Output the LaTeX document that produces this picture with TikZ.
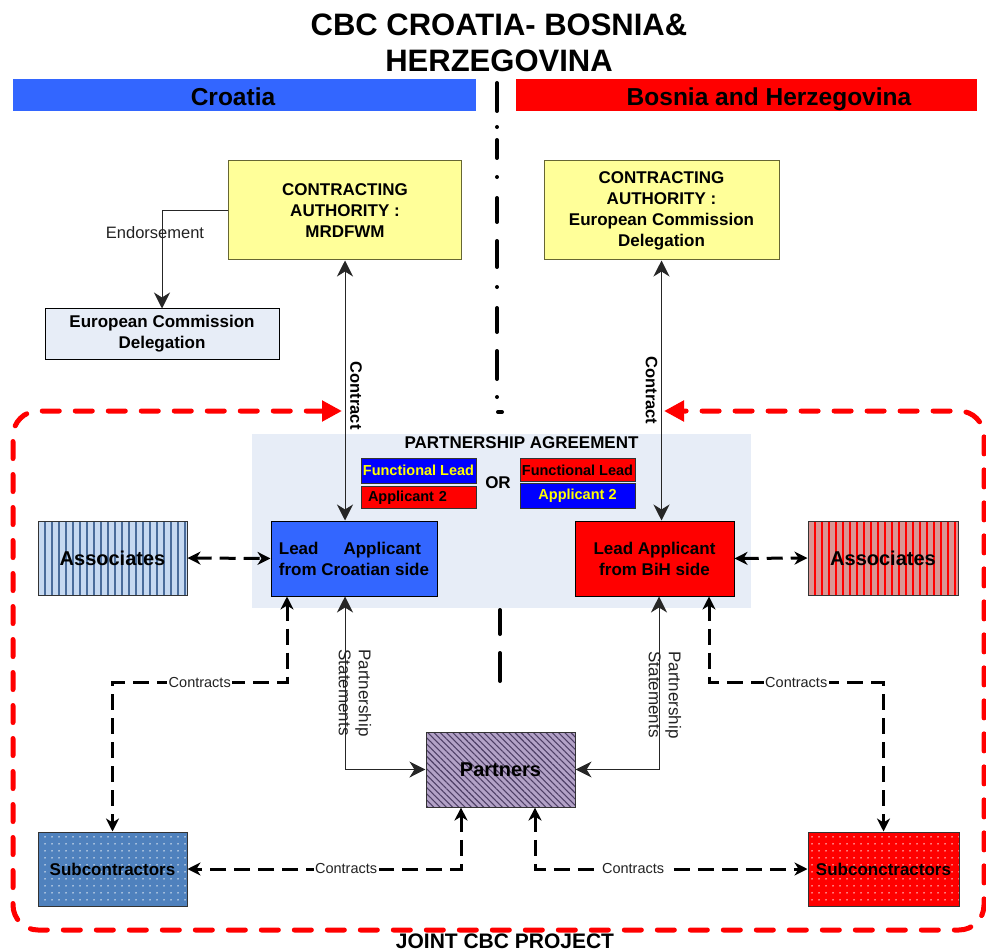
\documentclass[tikz,border=0pt]{standalone}
\usepackage{fontspec}
\setmainfont{Liberation Sans}
\usetikzlibrary{arrows.meta,patterns.meta}

\definecolor{hdrblue}{HTML}{3366FF}
\definecolor{pured}{HTML}{FF0000}
\definecolor{pureblue}{HTML}{0000FF}
\definecolor{cayellow}{HTML}{FFFF99}
\definecolor{caborder}{HTML}{666633}
\definecolor{paleblue}{HTML}{E7EDF7}
\definecolor{asblue}{HTML}{C6D9F1}
\definecolor{asstripe}{HTML}{4A6C9B}
\definecolor{asred}{HTML}{D99694}
\definecolor{ptfill}{HTML}{B3A2C7}
\definecolor{pthatch}{HTML}{4E3F66}
\definecolor{scblue}{HTML}{4F81BD}
\definecolor{txtyellow}{HTML}{FFFF00}
\definecolor{labelgray}{HTML}{222222}

\newcommand{\fsz}[2]{\fontsize{#1}{#2}\selectfont}

\tikzset{
  bigtip/.tip={Stealth[length=16pt,width=16pt,inset=5pt]},
  dtip/.tip={Stealth[length=13pt,width=13pt,inset=4pt]},
  rtip/.tip={Triangle[length=20pt,width=20pt]},
  box/.style={draw=black, line width=1pt, inner sep=0pt, align=center, font=\fsz{17}{21}\bfseries},
  cabox/.style={box, draw=caborder, fill=cayellow, minimum width=233pt, minimum height=99pt},
  smallbox/.style={draw=black!80, line width=1pt, inner sep=0pt, minimum width=115pt, font=\fsz{14.5}{17}\bfseries},
  patbox/.style={box, draw=black!80, minimum width=149pt, minimum height=74pt},
  stripes/.style={path picture={\foreach \k in {0,...,20} \draw[#1, line width=2pt] ([xshift=7pt+\k*7pt]path picture bounding box.north west) -- ([xshift=7pt+\k*7pt]path picture bounding box.south west);}},
  thinconn/.style={draw=black!85, line width=1pt},
  dashconn/.style={draw=black, line width=3pt, dash pattern=on 16pt off 8pt, dtip-dtip},
  reddash/.style={draw=pured, line width=5pt, dash pattern=on 17pt off 16pt, line cap=round, rtip-rtip},
  divline/.style={draw=black, line width=4pt, line cap=round},
  lbl/.style={font=\fsz{14.5}{17}, text=labelgray, fill=white, inner sep=1.5pt},
  pslbl/.style={font=\fsz{17}{20}, text=labelgray, rotate=-90, align=left, inner sep=0pt},
  ctlbl/.style={font=\fsz{16.5}{20}\bfseries, rotate=-90, inner sep=0pt}
}

\begin{document}
\begin{tikzpicture}[x=1pt,y=-1pt]
\useasboundingbox (0,0) rectangle (986,952);

% title and headers
\node[font=\fsz{31}{35.7}\bfseries, align=center, inner sep=0pt] (title) at (499,42.8) {CBC CROATIA- BOSNIA\&\\HERZEGOVINA};
\node[fill=hdrblue, minimum width=463pt, minimum height=32pt, inner sep=0pt] (hdrHR) at (244.5,95) {};
\node[fill=pured, minimum width=461pt, minimum height=32pt, inner sep=0pt] (hdrBA) at (746.5,95) {};
\node[anchor=base, font=\fsz{24.5}{28}\bfseries, inner sep=0pt] (hdrHRt) at (233,106) {Croatia};
\node[anchor=base, font=\fsz{24.5}{28}\bfseries, inner sep=0pt] (hdrBAt) at (769,106) {Bosnia and Herzegovina};

% partnership agreement background
\node[fill=paleblue, minimum width=499pt, minimum height=174pt, inner sep=0pt] (PA) at (501.5,521) {};
\node[font=\fsz{17}{21}\bfseries, inner sep=0pt] (PAt) at (521.5,443) {PARTNERSHIP AGREEMENT};

% central divider
\draw[divline] (497,83) -- (497,111);
\draw[divline] (497,127) -- (497,127.01);
\draw[divline] (497,140) -- (497,158);
\draw[divline] (497,177) -- (497,177.01);
\draw[divline] (497,198) -- (497,222);
\draw[divline] (497,241) -- (497,267);
\draw[divline] (497,287) -- (497,287.01);
\draw[divline] (497,308) -- (497,332);
\draw[divline] (497,351) -- (497,379);
\draw[divline] (497,397) -- (497,397.01);
\draw[divline] (498,412) -- (502,412);
\draw[divline] (500,610) -- (500,634);
\draw[divline] (500,653) -- (500,681);

% top boxes
\node[cabox] (CA1) at (345,210.5) {CONTRACTING\\AUTHORITY :\\MRDFWM};
\node[cabox, minimum width=235pt] (CA2) at (661.5,210.5) {CONTRACTING\\AUTHORITY :\\European Commission\\Delegation};
\node[box, fill=paleblue, minimum width=234pt, minimum height=50pt] (ECD) at (162,334) {European Commission\\Delegation};

% small boxes in PA
\node[smallbox, fill=pureblue, text=txtyellow, minimum height=25pt] (FL1) at (418.5,470.5) {Functional Lead};
\node[smallbox, fill=pured, minimum height=22pt, text width=101pt, inner xsep=7pt, align=left] (A21) at (418.5,497.5) {Applicant 2};
\node[font=\fsz{17}{21}\bfseries, inner sep=0pt] (OR) at (498,483) {OR};
\node[smallbox, fill=pured, minimum height=23.5pt] (FL2) at (577.5,470) {Functional Lead};
\node[smallbox, fill=pureblue, text=txtyellow, minimum height=25.5pt] (A22) at (577.5,496) {Applicant 2};

% lead applicants
\node[box, fill=hdrblue, minimum width=166pt, minimum height=75pt, align=left] (LA1) at (354,558.5) {Lead\hspace{25pt}Applicant\\from Croatian side};
\node[box, fill=pured, minimum width=159pt, minimum height=75pt] (LA2) at (654.5,558.5) {Lead Applicant\\from BiH side};

% associates, partners, subcontractors
\node[patbox, font=\fsz{20}{24}\bfseries, minimum width=149pt, fill=asblue, stripes=asstripe] (AS1) at (112.5,558) {Associates};
\node[patbox, font=\fsz{20}{24}\bfseries, minimum width=150pt, fill=asred, stripes=pured] (AS2) at (883,558) {Associates};
\node[patbox, font=\fsz{20}{24}\bfseries, minimum height=75pt, preaction={fill=ptfill}, pattern={Lines[angle=-45,distance=4.4pt,line width=1.1pt]}, pattern color=pthatch] (PT) at (500.5,769.5) {Partners};
\node[patbox, preaction={fill=scblue}, pattern={Dots[radius=0.8pt,distance=6.5pt]}, pattern color=white] (SC1) at (112.5,869) {Subcontractors};
\node[patbox, minimum width=151pt, preaction={fill=pured}, pattern={Dots[radius=0.8pt,distance=6.5pt]}, pattern color=white] (SC2) at (883.5,869) {Subconctractors};

% endorsement
\draw[thinconn, -bigtip] (CA1.west) -| (ECD.north);
\node[font=\fsz{16.5}{20}, text=labelgray, inner sep=0pt] (endlbl) at (155,233) {Endorsement};

% contracts with contracting authorities
\draw[thinconn, bigtip-bigtip] (CA1.south) -- (CA1.south |- LA1.north) node[pos=0.52, xshift=11pt, ctlbl] {Contract};
\draw[thinconn, bigtip-bigtip] (CA2.south) -- (CA2.south |- LA2.north) node[pos=0.5, xshift=-10pt, ctlbl] {Contract};

% red frame of the joint project
\coordinate (rfL) at (342,411);
\coordinate (rfR) at (664,411);
\draw[reddash, rounded corners=25pt] (rfL) -- (13,411) -- (13,930) -- (984,930) -- (984,411) -- (rfR);
\node[anchor=base, font=\fsz{21}{25}\bfseries, inner sep=0pt] (jcp) at (505,948) {JOINT CBC PROJECT};

% associates links
\draw[dashconn] (AS1.east) -- (LA1.west);
\draw[dashconn] (LA2.east) -- (AS2.west);

% contracts from lead applicants to subcontractors
\coordinate (yup) at (0,682.5);
\coordinate (ulC) at ([xshift=-67pt]LA1.south);
\coordinate (urC) at ([xshift=54.5pt]LA2.south);
\draw[dashconn] (ulC) -- (ulC |- yup) -- node[lbl] {Contracts} (SC1.north |- yup) -- (SC1.north);
\draw[dashconn] (urC) -- (urC |- yup) -- node[lbl] {Contracts} (SC2.north |- yup) -- (SC2.north);

% partnership statements
\coordinate (psL) at ([xshift=-9pt]LA1.south);
\coordinate (psR) at ([xshift=4.5pt]LA2.south);
\draw[thinconn, bigtip-bigtip] (psL) |- (PT.west);
\draw[thinconn, bigtip-bigtip] (psR) |- (PT.east);
\node[pslbl] (psLlbl) at (355,693) {Partnership\\Statements};
\node[pslbl] (psRlbl) at (665,695) {Partnership\\Statements};

% contracts from partners to subcontractors
\coordinate (blC) at ([xshift=-39.5pt]PT.south);
\coordinate (brC) at ([xshift=34.5pt]PT.south);
\draw[dashconn] (blC) |- node[lbl, pos=0.71] {Contracts} (SC1.east);
\draw[dashconn] (brC) |- node[lbl, pos=0.68] {Contracts} (SC2.west);
\end{tikzpicture}
\end{document}
